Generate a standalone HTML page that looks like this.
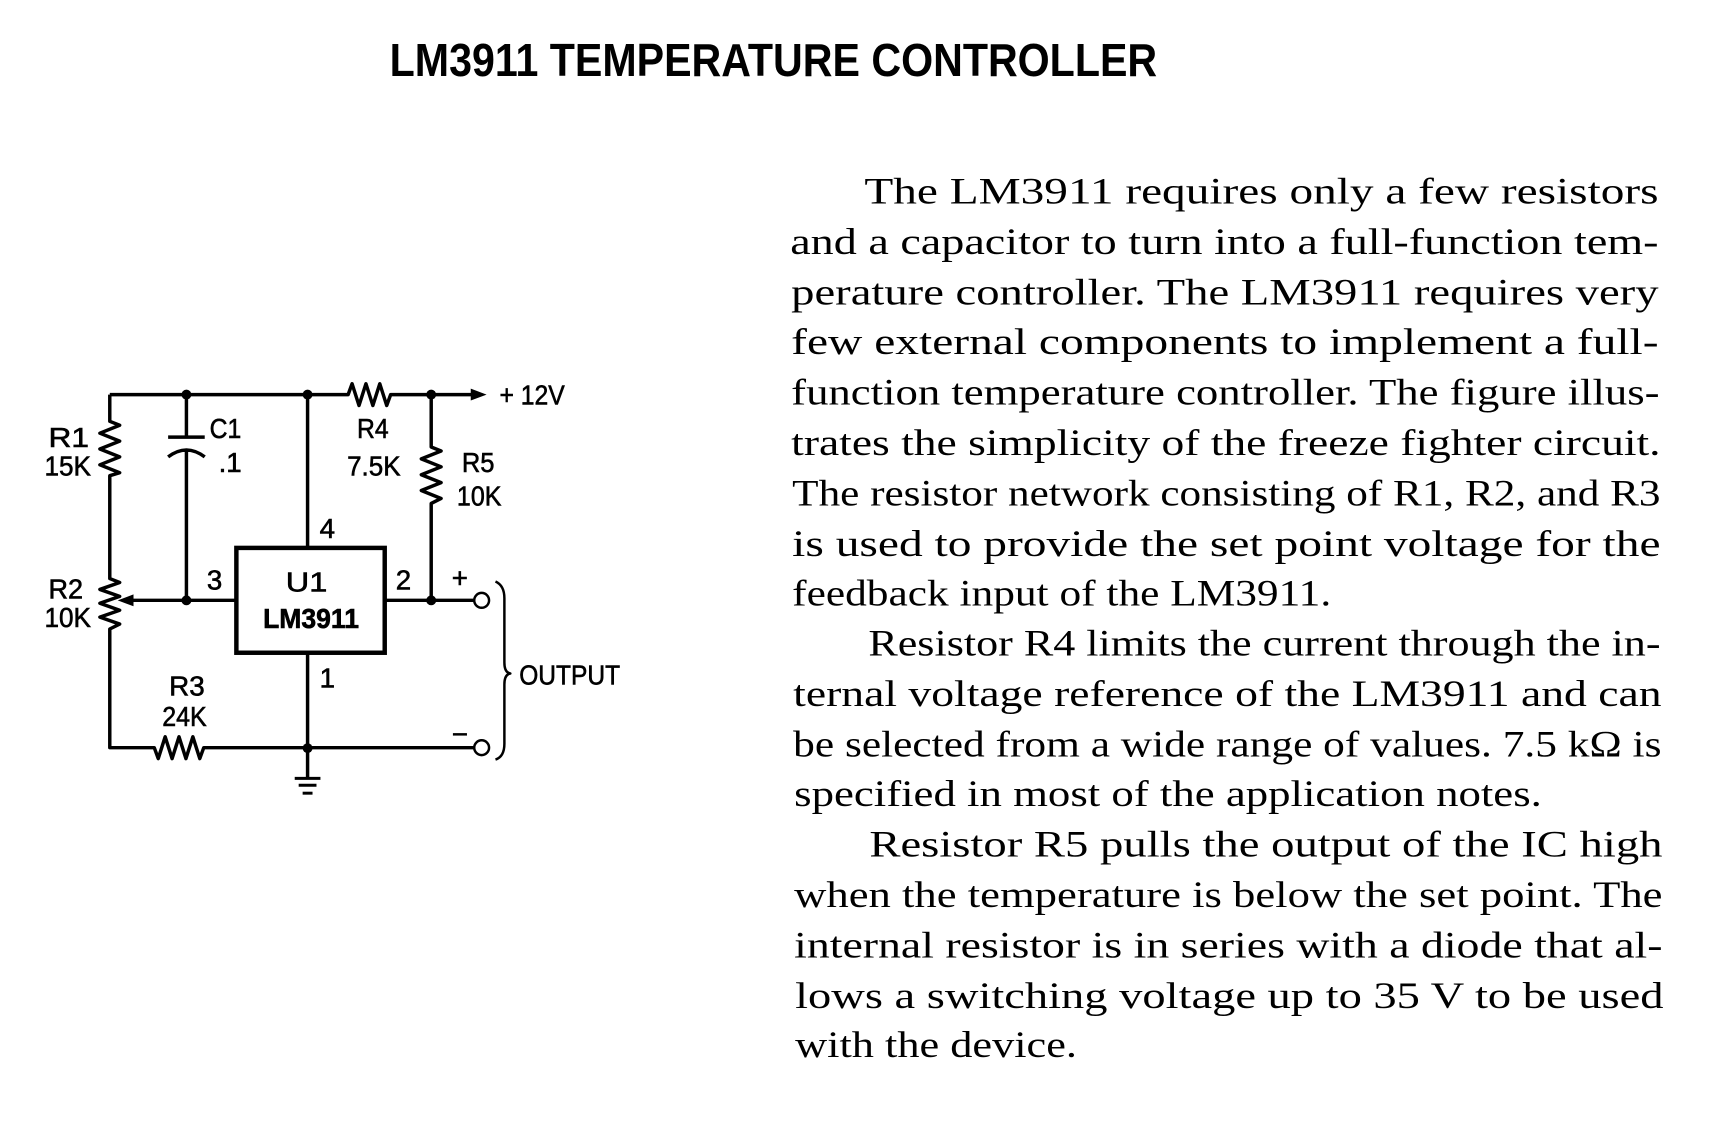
<!DOCTYPE html>
<html><head><meta charset="utf-8"><style>
html,body{margin:0;padding:0;background:#fff;}
svg{display:block;}
.l{font-family:"Liberation Sans",sans-serif;font-size:28px;fill:#000;stroke:#000;stroke-width:0.6;}
.t{font-family:"Liberation Serif",serif;font-size:37px;fill:#000;}
</style></head><body>
<svg width="1710" height="1140" viewBox="0 0 1710 1140" xmlns="http://www.w3.org/2000/svg">
<g transform="scale(0.989)">
<text x="394" y="77" font-family="Liberation Sans, sans-serif" font-weight="bold" font-size="47" textLength="776" lengthAdjust="spacingAndGlyphs">LM3911 TEMPERATURE CONTROLLER</text>

<g fill="none" stroke="#000" stroke-width="3.5" stroke-linejoin="round">
<path d="M111 399 H352 l4 -11 l7 22 l7 -22 l7 22 l7 -22 l7 22 l4 -11 H482"/>
<path d="M111 399 V426 l10 4 l-20 8 l20 8 l-20 8 l20 8 l-20 8 l20 8 l-10 3 V585 l10 4 l-20 7 l20 7 l-20 7 l20 7 l-20 7 l20 7 l-10 5 V756 H156 l4 11 l7 -22 l7 22 l7 -22 l7 22 l7 -22 l7 22 l4 -11 H479"/>
<path d="M188.5 399 V442 M170 442 H207 M170 462 Q188.5 448 207 462 M188.5 455 V607"/>
<path d="M311 399 V554 M311 660 V787"/>
<path d="M239 607 H132"/>
<path d="M389 607 H479 M436 399 V452 l10 4 l-20 8 l20 8 l-20 8 l20 8 l-20 8 l20 8 l-10 5 V607"/>
<path d="M501 588 Q510 592 510 605 V670 Q510 680 516 681 Q510 682 510 692 V752 Q510 765 501 768" stroke-width="2.5"/>
</g>
<rect x="239" y="554" width="150" height="106" fill="none" stroke="#000" stroke-width="4.5"/>
<polygon points="492,399 476,393 476,405" fill="#000"/>
<polygon points="119,607 135,601 135,613" fill="#000"/>
<g stroke="#000" stroke-width="3"><line x1="298" y1="787" x2="324" y2="787"/><line x1="302" y1="794" x2="320" y2="794"/><line x1="306" y1="802" x2="316" y2="802"/></g>
<g fill="#000">
<circle cx="188.5" cy="399" r="5"/><circle cx="311" cy="399" r="5"/><circle cx="436" cy="399" r="5"/>
<circle cx="188.5" cy="607" r="5"/><circle cx="436" cy="607" r="5"/><circle cx="311" cy="756.5" r="5"/>
</g>
<circle cx="487" cy="607" r="7.5" fill="#fff" stroke="#000" stroke-width="2.5"/>
<circle cx="487" cy="756" r="7.5" fill="#fff" stroke="#000" stroke-width="2.5"/>

<text class="l" x="505" y="409" textLength="66" lengthAdjust="spacingAndGlyphs">+ 12V</text>
<text class="l" x="49" y="452" textLength="41" lengthAdjust="spacingAndGlyphs">R1</text>
<text class="l" x="45" y="481" textLength="47" lengthAdjust="spacingAndGlyphs">15K</text>
<text class="l" x="49" y="605" textLength="35" lengthAdjust="spacingAndGlyphs">R2</text>
<text class="l" x="45" y="634" textLength="47" lengthAdjust="spacingAndGlyphs">10K</text>
<text class="l" x="212" y="443" textLength="32" lengthAdjust="spacingAndGlyphs">C1</text>
<text class="l" x="221" y="477">.1</text>
<text class="l" x="361" y="443" textLength="32" lengthAdjust="spacingAndGlyphs">R4</text>
<text class="l" x="351" y="481" textLength="54" lengthAdjust="spacingAndGlyphs">7.5K</text>
<text class="l" x="467" y="477" textLength="33" lengthAdjust="spacingAndGlyphs">R5</text>
<text class="l" x="462" y="511" textLength="45" lengthAdjust="spacingAndGlyphs">10K</text>
<text class="l" x="331" y="544" text-anchor="middle">4</text>
<text class="l" x="217" y="596" text-anchor="middle">3</text>
<text class="l" x="408" y="596" text-anchor="middle">2</text>
<text class="l" x="331" y="695" text-anchor="middle">1</text>
<text class="l" x="289" y="598" textLength="42" lengthAdjust="spacingAndGlyphs">U1</text>
<text class="l" x="266" y="635" font-weight="bold" textLength="97" lengthAdjust="spacingAndGlyphs">LM3911</text>
<text class="l" x="171" y="703" textLength="36" lengthAdjust="spacingAndGlyphs">R3</text>
<text class="l" x="164" y="734" textLength="45" lengthAdjust="spacingAndGlyphs">24K</text>
<text class="l" x="465" y="594" text-anchor="middle" font-size="22">+</text>
<text class="l" x="465" y="752" text-anchor="middle" font-size="24">−</text>
<text class="l" x="525" y="692" textLength="102" lengthAdjust="spacingAndGlyphs">OUTPUT</text>

<g class="t">
<text x="874" y="206" textLength="803" lengthAdjust="spacingAndGlyphs">The LM3911 requires only a few resistors</text>
<text x="799" y="257" textLength="878" lengthAdjust="spacingAndGlyphs">and a capacitor to turn into a full-function tem-</text>
<text x="800" y="308" textLength="877" lengthAdjust="spacingAndGlyphs">perature controller. The LM3911 requires very</text>
<text x="800" y="358" textLength="877" lengthAdjust="spacingAndGlyphs">few external components to implement a full-</text>
<text x="800" y="409" textLength="878" lengthAdjust="spacingAndGlyphs">function temperature controller. The figure illus-</text>
<text x="800" y="460" textLength="879" lengthAdjust="spacingAndGlyphs">trates the simplicity of the freeze fighter circuit.</text>
<text x="801" y="511" textLength="878" lengthAdjust="spacingAndGlyphs">The resistor network consisting of R1, R2, and R3</text>
<text x="801" y="562" textLength="878" lengthAdjust="spacingAndGlyphs">is used to provide the set point voltage for the</text>
<text x="801" y="612" textLength="545" lengthAdjust="spacingAndGlyphs">feedback input of the LM3911.</text>
<text x="878" y="663" textLength="801" lengthAdjust="spacingAndGlyphs">Resistor R4 limits the current through the in-</text>
<text x="802" y="714" textLength="878" lengthAdjust="spacingAndGlyphs">ternal voltage reference of the LM3911 and can</text>
<text x="802" y="765" textLength="878" lengthAdjust="spacingAndGlyphs">be selected from a wide range of values. 7.5 kΩ is</text>
<text x="803" y="815" textLength="756" lengthAdjust="spacingAndGlyphs">specified in most of the application notes.</text>
<text x="879" y="866" textLength="802" lengthAdjust="spacingAndGlyphs">Resistor R5 pulls the output of the IC high</text>
<text x="803" y="917" textLength="878" lengthAdjust="spacingAndGlyphs">when the temperature is below the set point. The</text>
<text x="803" y="968" textLength="878" lengthAdjust="spacingAndGlyphs">internal resistor is in series with a diode that al-</text>
<text x="804" y="1019" textLength="878" lengthAdjust="spacingAndGlyphs">lows a switching voltage up to 35 V to be used</text>
<text x="804" y="1069" textLength="285" lengthAdjust="spacingAndGlyphs">with the device.</text>
</g>
</g>
</svg>
</body></html>
